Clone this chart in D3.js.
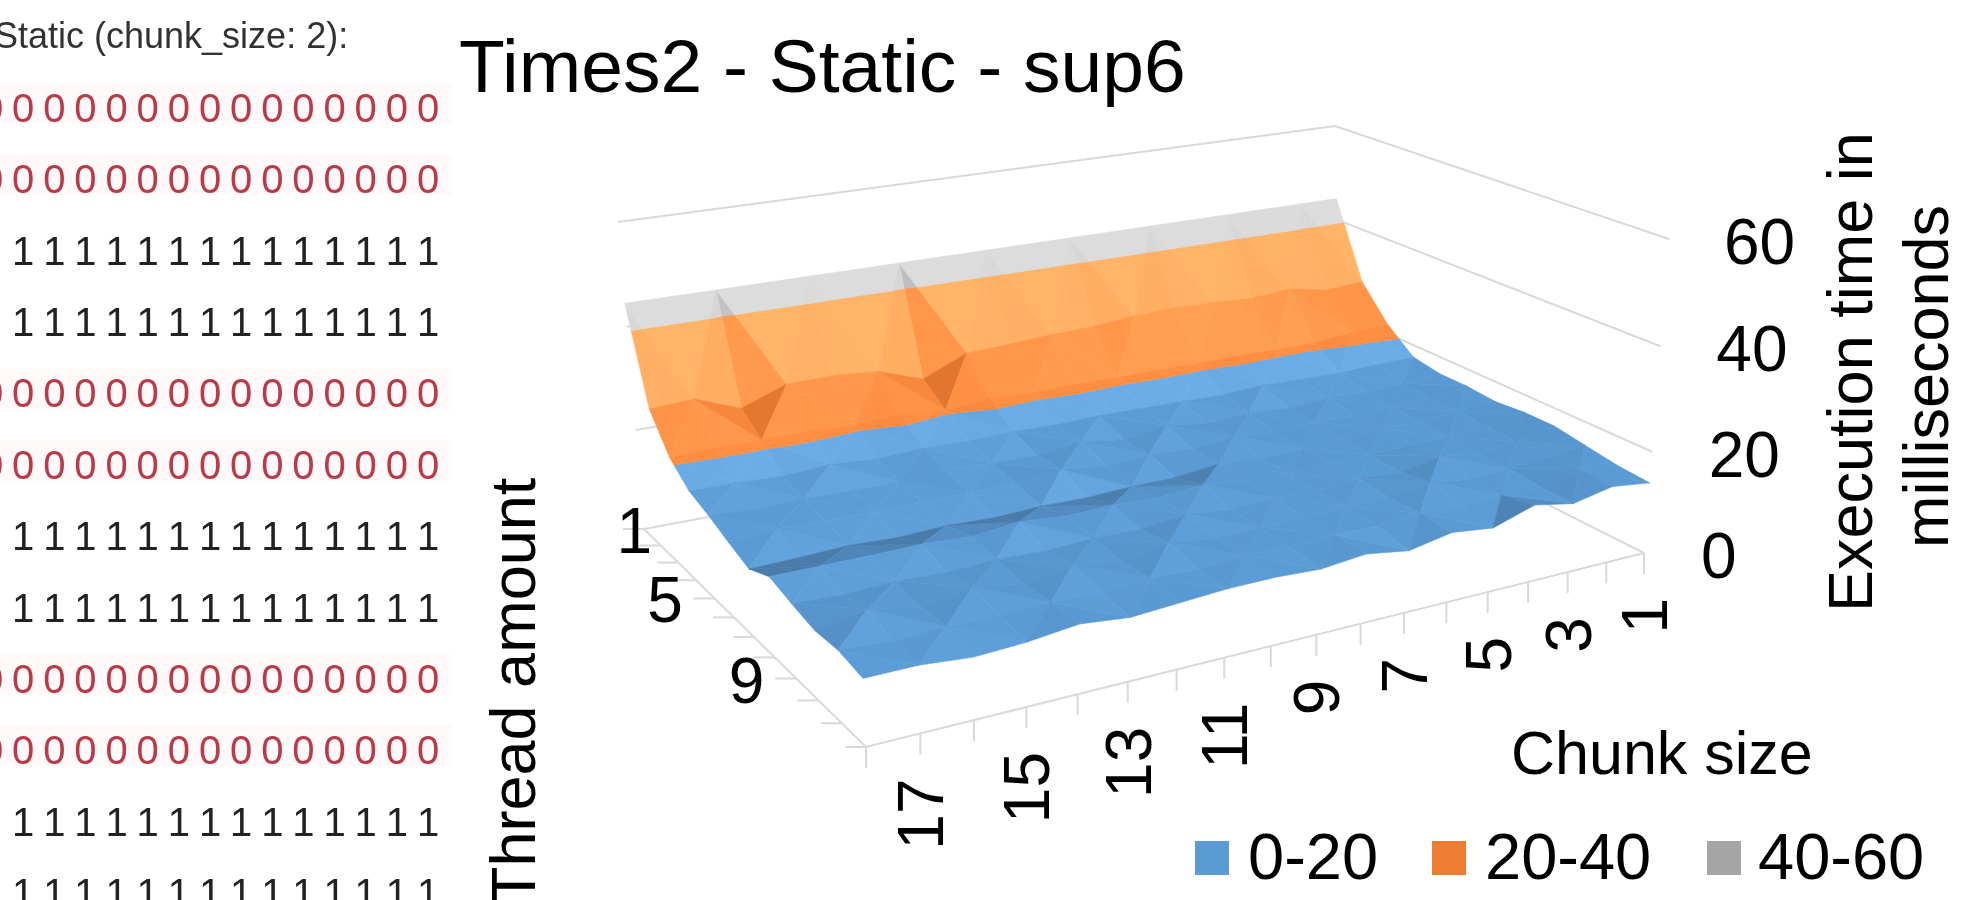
<!DOCTYPE html>
<html>
<head>
<meta charset="utf-8">
<script src="https://cdn.jsdelivr.net/npm/d3@7"></script>
<style>
html,body{margin:0;padding:0;background:#fff;overflow:hidden}
text{font-family:"Liberation Sans",Arial,sans-serif}
</style>
</head>
<body>
<div id="content"></div>
<script>
//////////////////// data
const chunkSizes = d3.range(1, 19);
const threadCounts = d3.range(1, 13);
const chunkLabels = [1, 3, 5, 7, 9, 11, 13, 15, 17];
const threadLabels = [1, 5, 9];
const timeTicks = [0, 20, 40, 60];
const bandNames = ["0-20", "20-40", "40-60"];
const bandLimits = [[0, 20], [20, 40], [40, 60]];
const bandColors = ["#5B9BD5", "#ED7D31", "#A5A5A5"];

// execution time per thread amount, one value per chunk size 1..18
const thread1  = [44.5,44.5,44.5,44.5,44.5,44.5,44.5,44.5,44.5,44.5,44.5,44.5,44.5,44.5,44.5,44.5,44.5,44.5];
const thread2  = [28.8,28.3,29.8,29.2,29.6,29.9,29.5,28.8,28.5,28,27.6,23.9,26.9,27.6,27.4,24.2,27.5,27];
const thread3  = [22,21.5,20.9,20.8,21,20.8,21,20.8,21,20.8,21.2,20.4,21.2,20.6,21,21,21,20.8];
const thread4  = [17.5,17.3,17,17.2,17.4,17,17.2,17.3,17.4,17.2,17.4,17.2,17.4,17,17.6,17,17.4,17.5];
const thread5  = [16.5,16,15.6,16,15.4,16,15.4,16.6,15.4,16.6,15.6,15.8,16.2,15.6,15.6,15.8,15.6,16.2];
const thread6  = [16.5,15.6,15.2,15,15.2,14.8,15.6,14.8,15.4,14.8,15.8,14.8,14.8,14.8,14.8,14.8,15.2,14.5];
const thread7  = [16,15.6,14.8,15.2,14.6,14.4,14.2,14.8,13.8,13.8,13.4,13.6,13.2,13.6,13.2,13.6,13.2,13];
const thread8  = [16.5,15.2,14.6,14.8,14.4,14.6,14.2,14.4,15.4,14.8,15.2,14.9,15.7,14.8,15.3,15.2,15.2,15.2];
const thread9  = [16.5,15,14.2,15.4,14,14.4,13.8,14.2,13.8,14.8,13.8,14,13.6,14,13.6,14,13.6,14];
const thread10 = [15.5,14.8,14.2,13.8,15,13.8,13.8,13.6,13.6,13.4,14.6,13.2,14.4,13,14.4,13,14.6,13];
const thread11 = [14.5,15.4,13.6,13.8,13.6,14,13.4,13.6,13.2,13.6,13,13.4,13,13.2,13,13.2,12.8,13.4];
const thread12 = [14,15,13.5,15,12.5,13.5,12,13.3,12.5,13,13,12.5,12,13,12,11.6,12.5,12.5];
const times = [thread1,thread2,thread3,thread4,thread5,thread6,thread7,thread8,thread9,thread10,thread11,thread12];

// the pasted console output on the left
const consoleTitle = "Static (chunk_size: 2):";
const consoleRows = [0,0,1,1,0,0,1,1,0,0,1,1];

//////////////////// drawing-area definition
const W = 1972, H = 900;

// floor and top-plane corners of the 3d box: left, back, right, front
const floorQuad = [[644,529],[1340,400],[1644,553],[866,747]];
const topQuad   = [[618,222],[1335,126],[1669,239],[851,402]];

const uScale = d3.scaleLinear().domain([18, 1]).range([0, 1]);
const uBend = d3.scaleLinear().domain([1, 12]).range([1.05, 1.01]);     // chunk spacing is flatter at the back
const vScale = d3.scaleLinear().domain([1, 12]).range([0, 1]);
const zScale = d3.scalePow().exponent(1.03).domain([0, 60]).range([0, 1]);

function quadMap(q){            // unit square to quad, projective
    const [p0,p1,p2,p3] = q;
    const dx1 = p1[0]-p2[0], dx2 = p3[0]-p2[0], sx = p0[0]-p1[0]+p2[0]-p3[0];
    const dy1 = p1[1]-p2[1], dy2 = p3[1]-p2[1], sy = p0[1]-p1[1]+p2[1]-p3[1];
    const den = dx1*dy2-dx2*dy1;
    const g = (sx*dy2-dx2*sy)/den, h = (dx1*sy-sx*dy1)/den;
    const a = p1[0]-p0[0]+g*p1[0], b = p3[0]-p0[0]+h*p3[0], c = p0[0];
    const d = p1[1]-p0[1]+g*p1[1], e = p3[1]-p0[1]+h*p3[1], f = p0[1];
    return (u,v) => {
        const w = g*u+h*v+1;
        return [(a*u+b*v+c)/w, (d*u+e*v+f)/w];
    };
}
const floorMap = quadMap(floorQuad);
const topMap = quadMap(topQuad);

function project(chunk, thread, z){
    const u = Math.pow(uScale(chunk), uBend(thread)), v = vScale(thread), k = zScale(z);
    const a = floorMap(u,v), b = topMap(u,v);
    return [a[0]+(b[0]-a[0])*k, a[1]+(b[1]-a[1])*k];
}

////////////////////  composing SVG-content
const svg = d3.select("#content").append("svg").attr("width", W).attr("height", H);
svg.append("rect").attr("width", W).attr("height", H).attr("fill", "#fff");

// console screenshot
const blur = svg.append("defs").append("filter").attr("id","soft");
blur.append("feGaussianBlur").attr("stdDeviation", 0.6);
const consoleG = svg.append("g").attr("filter","url(#soft)");
const rowY = d3.scalePoint().domain(d3.range(12)).range([107, 892]);
const colX = d3.scalePoint().domain(d3.range(15)).range([-8, 428]);
consoleG.append("text").attr("x",-6).attr("y",48).attr("font-size",36).attr("fill","#333").text(consoleTitle);
consoleRows.forEach((bit,r)=>{
    if(bit===0) consoleG.append("rect").attr("x",0).attr("y",rowY(r)-24).attr("width",452).attr("height",41).attr("fill","#fff9f9");
    const cols = bit===0 ? d3.range(15) : d3.range(1,15);
    consoleG.selectAll(".d"+r).data(cols).enter().append("text")
        .attr("x", i=>colX(i)).attr("y", rowY(r)+15)
        .attr("text-anchor","middle").attr("font-size",40)
        .attr("fill", bit===0 ? "#b93a48" : "#222")
        .text(bit);
});

// title
svg.append("text").attr("x",459).attr("y",92).attr("font-size",75).attr("fill","#000").text("Times2 - Static - sup6");

// walls and floor
const gridColor = "#D9D9D9";
const grid = svg.append("g").attr("stroke",gridColor).attr("stroke-width",2).attr("fill","none");
const line = d3.line();
timeTicks.forEach(z=>{
    grid.append("path").attr("d", line([project(18,1,z), project(1,1,z), project(1,12,z)]));
});
grid.append("path").attr("d", line([project(18,1,0), project(18,12,0), project(1,12,0)]));
threadCounts.forEach(t=>{
    const p = project(18,t,0);
    grid.append("path").attr("d", line([p,[p[0]-21,p[1]]]));
});
chunkSizes.forEach(c=>{
    const p = project(c,12,0);
    grid.append("path").attr("d", line([p,[p[0],p[1]+21]]));
});

// surface: split each cell in two triangles, clip by band, shade by slope
const lighten = d3.scaleLinear().domain([0,1,2.5,15]).range([0,2,14,55]).clamp(true);
function clipBelow(poly, limit, keepBelow){
    const out = [];
    poly.forEach((a,i)=>{
        const b = poly[(i+1)%poly.length];
        const aIn = keepBelow ? a[2]<=limit : a[2]>=limit;
        const bIn = keepBelow ? b[2]<=limit : b[2]>=limit;
        if(aIn) out.push(a);
        if(aIn!==bIn){
            const k = (limit-a[2])/(b[2]-a[2]);
            out.push([a[0]+(b[0]-a[0])*k, a[1]+(b[1]-a[1])*k, limit]);
        }
    });
    return out;
}
function lightOf(tri){          // brightness shift from the slope of the triangle
    const [a,b,c] = tri;
    const d1 = [b[0]-a[0], b[1]-a[1], b[2]-a[2]];
    const d2 = [c[0]-a[0], c[1]-a[1], c[2]-a[2]];
    const n = d1[0]*d2[1]-d1[1]*d2[0];
    const dzdt = (d1[0]*d2[2]-d1[2]*d2[0])/n;
    const dzdc = (d1[2]*d2[1]-d1[1]*d2[2])/n;
    return lighten(Math.abs(dzdt)) * (dzdt<0 ? 1 : -5) + (dzdc<0 ? 8 : -2)*dzdc;
}
function facetColor(base, s){
    const c = d3.rgb(base);
    if(s>=0) return d3.rgb(c.r+s, c.g+s, c.b+s).clamp().formatHex();
    const f = Math.max(0.8, 1+s*0.004);
    return d3.rgb(c.r*f, c.g*f, c.b*f).clamp().formatHex();
}
const surface = svg.append("g");
const poly2d = d3.line().curve(d3.curveLinearClosed);
function drawTriangle(tri){
    const s = lightOf(tri);
    bandLimits.forEach((lim,b)=>{
        let poly = clipBelow(tri, lim[0], false);
        if(poly.length) poly = clipBelow(poly, lim[1], true);
        if(poly.length<3) return;
        const col = facetColor(bandColors[b], s);
        surface.append("path")
            .attr("d", poly2d(poly.map(p=>project(p[0],p[1],p[2]))))
            .attr("fill", col).attr("stroke", col).attr("stroke-width", 0.6);
    });
}
threadCounts.slice(0,-1).forEach((t,ti)=>{
    chunkSizes.slice(0,-1).forEach((c,ci)=>{
        const p00 = [c,   t,   times[ti][ci]];
        const p10 = [c+1, t,   times[ti][ci+1]];
        const p01 = [c,   t+1, times[ti+1][ci]];
        const p11 = [c+1, t+1, times[ti+1][ci+1]];
        if((c+t)%2===1){        // diagonal joins the corners with an odd sum
            drawTriangle([p00,p10,p11]);
            drawTriangle([p00,p11,p01]);
        } else {
            drawTriangle([p10,p11,p01]);
            drawTriangle([p00,p10,p01]);
        }
    });
});

// tick labels
const tickSize = 64;
const zLabelX = d3.scaleLinear().domain([0,60]).range([1701,1724]);
timeTicks.forEach(z=>{
    const p = project(1,12,z);
    svg.append("text").attr("x",zLabelX(z)).attr("y",p[1]+25).attr("font-size",tickSize).text(z);
});
const threadLabelDx = d3.scaleOrdinal().domain(threadLabels).range([8,-32,-32]);
threadLabels.forEach(t=>{
    const p = project(18,t,0);
    svg.append("text").attr("x",p[0]+threadLabelDx(t)).attr("y",p[1]+24).attr("text-anchor","end")
        .attr("font-size",tickSize).text(t);
});
chunkLabels.forEach(c=>{
    const p = project(c,12,0);
    svg.append("text")
        .attr("transform","translate("+(p[0]+23)+","+(p[1]+45)+") rotate(-90)")
        .attr("text-anchor","end").attr("font-size",tickSize).text(c);
});

// axis titles
svg.append("text").attr("transform","translate(535,905) rotate(-90)").attr("font-size",63).text("Thread amount");
svg.append("text").attr("x",1511).attr("y",774).attr("font-size",61).text("Chunk size");
svg.append("text").attr("transform","translate(1872,612) rotate(-90)").attr("font-size",63).text("Execution time in");
svg.append("text").attr("transform","translate(1948,548) rotate(-90)").attr("font-size",63).text("milliseconds");

// legend
const legendTextX = d3.scaleOrdinal().domain(bandNames).range([1248,1485,1758]);
const legendBoxX = d3.scaleOrdinal().domain(bandNames).range([1195,1432,1707]);
bandNames.forEach((n,i)=>{
    svg.append("rect").attr("x",legendBoxX(n)).attr("y",841).attr("width",34).attr("height",34).attr("fill",bandColors[i]);
    svg.append("text").attr("x",legendTextX(n)).attr("y",879).attr("font-size",65).text(n);
});
</script>
</body>
</html>
